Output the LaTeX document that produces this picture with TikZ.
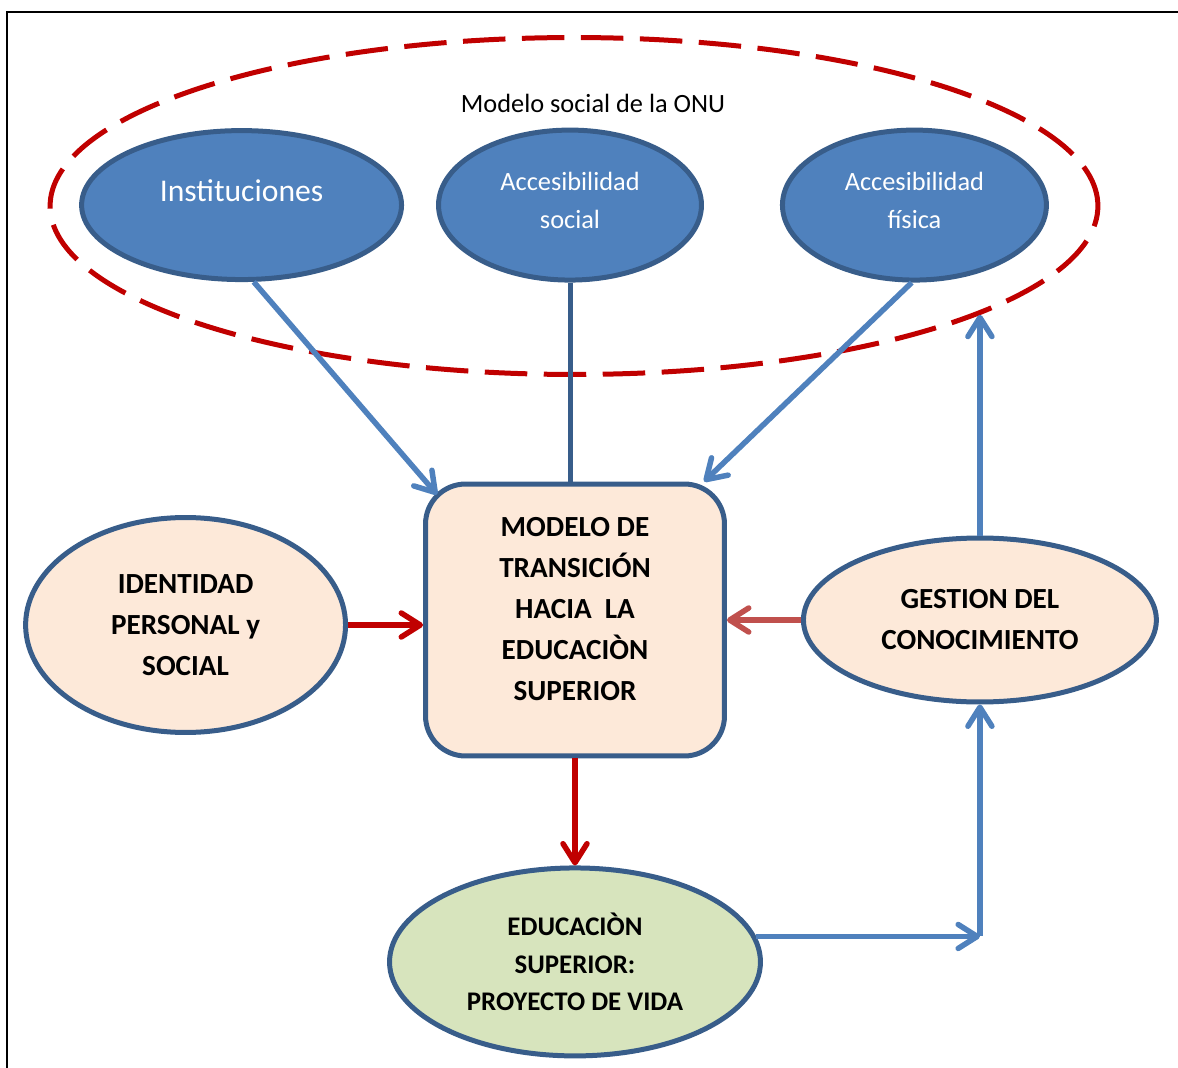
\documentclass[tikz,border=0pt]{standalone}
\usepackage{fontspec}
\setmainfont{Carlito}
\usetikzlibrary{shapes.geometric, shapes.misc, arrows.meta, positioning, calc}
\usepackage{xcolor}
\definecolor{azul}{HTML}{4F81BD}
\definecolor{azulborde}{HTML}{385D8A}
\definecolor{rosado}{HTML}{FDE9D9}
\definecolor{verde}{HTML}{D7E4BD}
\definecolor{rojo}{HTML}{C00000}
\definecolor{rojoclaro}{HTML}{C0504D}

\begin{document}
\begin{tikzpicture}[
    x=0.02cm, y=-0.02cm,
    every node/.style={font=\fontsize{16.6}{23.3}\selectfont\bfseries, align=center},
    ovalo/.style={ellipse, draw=azulborde, line width=0.1cm, fill=azul, text=white,
                  font=\fontsize{15}{21.5}\selectfont, minimum width=5.28cm, minimum height=3cm},
    caja/.style={rectangle, draw=azulborde, line width=0.1cm, fill=rosado, rounded corners=0.8cm,
                 minimum width=5.98cm, minimum height=5.44cm},
    elip/.style={ellipse, draw=azulborde, line width=0.1cm, fill=rosado},
    arr/.style={-{Straight Barb[length=3.8mm, width=4.8mm, round]}, line width=0.11cm, draw=azul},
    arrrojo/.style={arr, draw=rojo},
    arrclaro/.style={arr, draw=rojoclaro},
    linea/.style={line width=0.1cm, draw=azulborde},
    marco/.style={line width=0.03cm, draw=black}
]
    \useasboundingbox (0,0) rectangle (1178,1068);
    \draw[marco] (7,1068) -- (7,12) -- (1178,12);

    % modelo social
    \node[ellipse, draw=rojo, line width=0.1cm, dash pattern=on 0.85cm off 0.33cm,
          minimum width=20.96cm, minimum height=6.74cm] (onu) at (574,206) {};
    \node[font=\fontsize{15}{17}\selectfont] (titulo) at (593,103) {Modelo social de la ONU};

    \node[caja, text depth=0.45cm] (box) at (575,620)
        {MODELO DE\\TRANSICIÓN\\HACIA\ \ LA\\EDUCACIÒN\\SUPERIOR};
    \node[ovalo, minimum width=5.26cm, text depth=0.2cm, above=3.98cm of box, xshift=-0.1cm] (soc)
        {Accesibilidad\\social};
    \node[ovalo, minimum width=6.4cm, minimum height=2.98cm, font=\fontsize{18}{21}\selectfont,
          text depth=0.6cm, left=0.64cm of soc] (inst) {Instituciones};
    \node[ovalo, text depth=0.2cm, right=1.52cm of soc] (fis) {Accesibilidad\\física};
    \node[elip, minimum width=6.4cm, minimum height=4.3cm, left=1.5cm of box, yshift=-0.1cm] (ident)
        {IDENTIDAD\\PERSONAL y\\SOCIAL};
    \node[elip, minimum width=7.06cm, minimum height=3.28cm, right=1.48cm of box] (gest)
        {GESTION DEL\\CONOCIMIENTO};
    \node[elip, fill=verde, minimum width=7.42cm, minimum height=3.76cm,
          font=\fontsize{15.3}{21.5}\selectfont\bfseries, below=2.14cm of box] (edu)
        {EDUCACIÒN\\SUPERIOR:\\PROYECTO DE VIDA};

    \draw[arr] (inst.-81) -- ($(box.north west)+(14,13)$);
    \draw[linea] (soc.south) -- (soc.south |- box.north);
    \draw[arr] (fis.-92) -- (box.47);
    \draw[arrrojo] (ident.east) -- (ident.east -| box.west);
    \draw[arrclaro] (gest) -- (box);
    \draw[arrrojo] (box) -- (edu);
    \coordinate (esq) at (gest.south |- edu.8);
    \draw[arr] (edu.8) -- (esq);
    \draw[arr] (esq) -- (gest.south);
    \draw[arr] (gest.north) -- (gest.north |- onu.-15);
\end{tikzpicture}
\end{document}
